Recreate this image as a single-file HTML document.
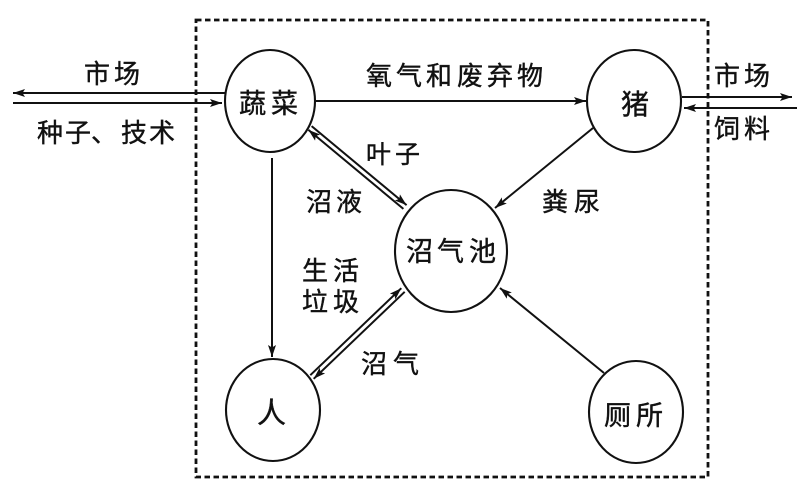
<!DOCTYPE html>
<html>
<head>
<meta charset="utf-8">
<style>
html,body{margin:0;padding:0;background:#fff;}
svg{display:block;}
text{font-family:"Liberation Sans","Noto Sans CJK SC",sans-serif;fill:#111;stroke:#111;stroke-width:0.4;}
</style>
</head>
<body>
<svg width="800" height="502" viewBox="0 0 800 502" xmlns="http://www.w3.org/2000/svg">
<defs>
<marker id="ah" markerUnits="userSpaceOnUse" markerWidth="13" markerHeight="9" refX="12" refY="4.5" orient="auto">
<path d="M0,0.5 L12,4.5 L0,8.5 L2.5,4.5 z" fill="#111"/>
</marker>
</defs>

<!-- dashed system boundary -->
<rect x="196" y="20" width="512" height="457" fill="none" stroke="#111" stroke-width="2.8" stroke-dasharray="5.5 3.5"/>

<g fill="none" stroke="#111" stroke-width="2.1">
<ellipse cx="270" cy="101" rx="45" ry="51"/>
<ellipse cx="634" cy="101" rx="47" ry="51"/>
<ellipse cx="451" cy="251" rx="56" ry="61"/>
<ellipse cx="273" cy="410" rx="47" ry="51"/>
<ellipse cx="636" cy="412" rx="47" ry="51"/>
</g>

<g fill="none" stroke="#111" stroke-width="2">
<line x1="225" y1="93" x2="13" y2="93" marker-end="url(#ah)"/>
<line x1="13" y1="103" x2="222" y2="103" marker-end="url(#ah)"/>
<line x1="315" y1="101" x2="586" y2="101" marker-end="url(#ah)"/>
<line x1="682" y1="97" x2="792" y2="97" marker-end="url(#ah)"/>
<line x1="797" y1="108" x2="684" y2="108" marker-end="url(#ah)"/>
<line x1="593" y1="128" x2="495" y2="208" marker-end="url(#ah)"/>
<line x1="604" y1="373" x2="500" y2="288" marker-end="url(#ah)"/>
<line x1="272" y1="158" x2="272" y2="357" marker-end="url(#ah)"/>
<line x1="311.6" y1="126.1" x2="406.6" y2="205.1" marker-end="url(#ah)"/>
<line x1="403.4" y1="208.9" x2="308.4" y2="129.9" marker-end="url(#ah)"/>
<line x1="310.3" y1="375.2" x2="401.3" y2="288.2" marker-end="url(#ah)"/>
<line x1="404.7" y1="291.8" x2="313.7" y2="378.8" marker-end="url(#ah)"/>
</g>

<text x="239 271" y="113" font-size="27">蔬菜</text>
<text x="621" y="114" font-size="28">猪</text>
<text x="406 437 469" y="261" font-size="27">沼气池</text>
<text x="257" y="423" font-size="29">人</text>
<text x="604 636" y="425" font-size="27">厕所</text>

<text x="84 114" y="83" font-size="26">市场</text>
<text x="37 65 91 121 149" y="142" font-size="26">种子、技术</text>
<text x="366 396 426 457 487 517" y="85" font-size="26">氧气和废弃物</text>
<text x="714 744" y="85" font-size="26">市场</text>
<text x="714 744" y="138" font-size="26">饲料</text>
<text x="366 395" y="163" font-size="25">叶子</text>
<text x="306 336" y="211" font-size="26">沼液</text>
<text x="542 574" y="211" font-size="26">粪尿</text>
<text x="302 333" y="280" font-size="26">生活</text>
<text x="302 333" y="311" font-size="26">垃圾</text>
<text x="361 393" y="373" font-size="26">沼气</text>
</svg>
</body>
</html>
